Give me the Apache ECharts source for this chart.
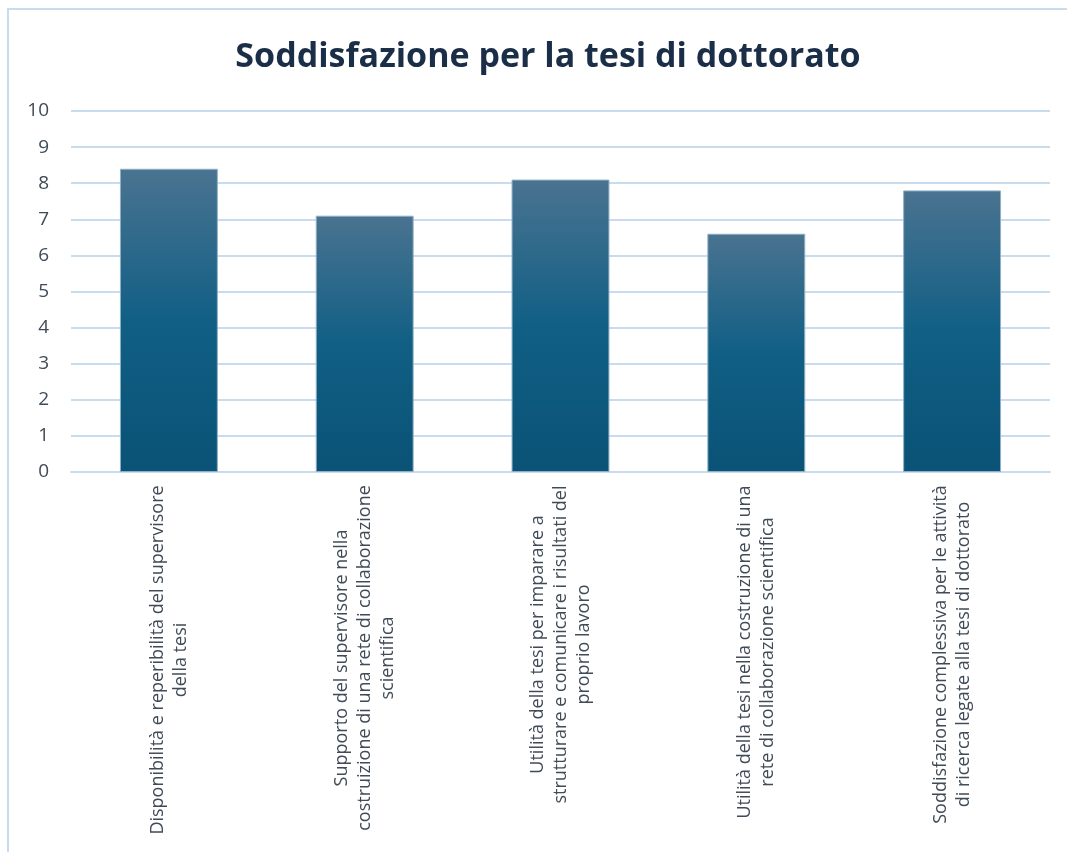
<!DOCTYPE html>
<html>
<head>
<meta charset="utf-8">
<script src="https://cdn.jsdelivr.net/npm/echarts@6/dist/echarts.min.js"></script>
<style>
html,body{margin:0;padding:0;background:#fff;}
#c{width:1067px;height:852px;}
</style>
</head>
<body>
<div id="c"></div>
<script>
const titleText = 'Soddisfazione per la tesi di dottorato';
const categories = [
  'Disponibilità e reperibilità del supervisore\ndella tesi',
  'Supporto del supervisore nella\ncostruizione di una rete di collaborazione\nscientifica',
  'Utilità della tesi per imparare a\nstrutturare e comunicare i risultati del\nproprio lavoro',
  'Utilità della tesi nella costruzione di una\nrete di collaborazione scientifica',
  'Soddisfazione complessiva per le attività\ndi ricerca legate alla tesi di dottorato'
];
const values = [8.4, 7.1, 8.1, 6.6, 7.8];
const yTicks = [0, 1, 2, 3, 4, 5, 6, 7, 8, 9, 10];

const labelSize = 18;
const cv = document.createElement('canvas').getContext('2d');
cv.font = labelSize + 'px "Open Sans"';
const rich = {};
categories.forEach((c, i) => {
  const w = Math.max(...c.split('\n').map(l => cv.measureText(l).width));
  rich['c' + i] = { width: Math.ceil(w) + 2, align: 'center', fontFamily: 'Open Sans', fontSize: labelSize, color: '#404b57', lineHeight: 23 };
});

const chart = echarts.init(document.getElementById('c'));
chart.setOption({
  animation: false,
  backgroundColor: '#fff',
  title: {
    text: titleText,
    left: 543, top: 35,
    textAlign: 'center',
    textStyle: { fontFamily: 'Open Sans', fontWeight: 'bold', fontSize: 34, color: '#1b2e48' }
  },
  graphic: [{
    type: 'rect', silent: true,
    shape: { x: 8, y: 9, width: 1200, height: 1000 },
    style: { fill: 'none', stroke: '#c9dcee', lineWidth: 2 }
  }],
  grid: { left: 71, right: 17, top: 111, bottom: 380, containLabel: false },
  xAxis: {
    type: 'category',
    data: categories,
    axisLine: { show: true, lineStyle: { color: '#c9dcee', width: 2 } },
    axisTick: { show: false },
    axisLabel: {
      interval: 0,
      rotate: 90,
      margin: 12,
      rich: rich,
      formatter: (v, idx) => v.split('\n').map(l => '{c' + idx + '|' + l + '}').join('\n')
    }
  },
  yAxis: {
    type: 'value',
    min: yTicks[0], max: yTicks[yTicks.length - 1], interval: 1,
    axisLine: { show: false },
    axisTick: { show: false },
    splitLine: { lineStyle: { color: '#c9dcee', width: 2 } },
    axisLabel: { fontFamily: 'Open Sans', fontSize: 19, color: '#404b57', margin: 22 }
  },
  series: [{
    type: 'bar',
    data: values,
    barWidth: '50%',
    itemStyle: {
      borderColor: '#8fb0c6', borderWidth: 1,
      color: new echarts.graphic.LinearGradient(0, 0, 0, 1, [
        { offset: 0, color: '#4a7390' },
        { offset: 0.5, color: '#115f85' },
        { offset: 1, color: '#0a5276' }
      ])
    }
  }]
});
</script>
</body>
</html>
